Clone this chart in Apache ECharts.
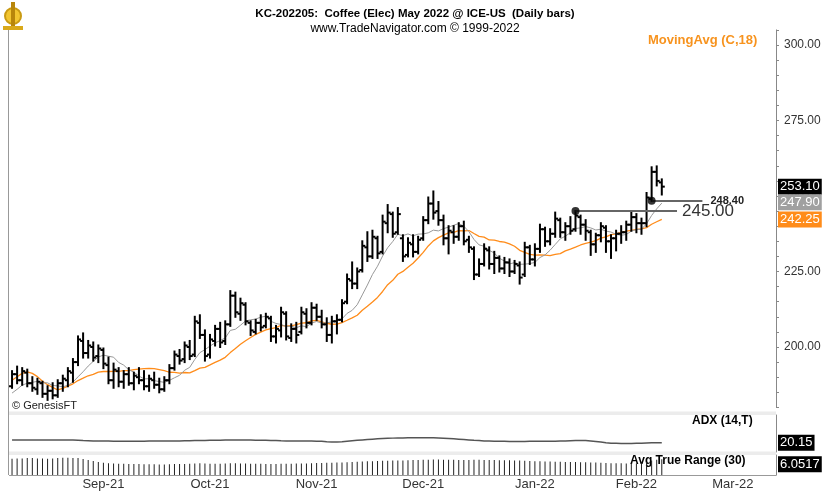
<!DOCTYPE html>
<html>
<head>
<meta charset="utf-8">
<script src="https://cdn.jsdelivr.net/npm/echarts@6/dist/echarts.min.js"></script>
<style>
  html, body { margin: 0; padding: 0; background: #fff; }
  #chart { width: 830px; height: 492px; }
</style>
</head>
<body>
<div id="chart"></div>
<script>
// KC May 2022, daily bars Aug 6 2021 .. Feb 8 2022
const opens = [
  187, 191, 189, 191.5, 188, 186, 188, 184.5, 185.5, 184,
  188, 189, 191.5, 195, 202, 198, 200, 197, 199, 194,
  189, 192, 188.5, 191, 188, 190, 189, 187, 189, 187.5,
  186, 189, 193, 197, 196, 200, 197.5, 208, 204, 197.5,
  202, 206, 202, 207.5, 217, 211, 214, 208, 205, 208,
  207, 209.5, 203.5, 205.5, 211, 203, 206, 205, 211, 208,
  213, 210, 207.5, 204, 208.5, 209, 215, 222, 221, 225.5,
  233, 230, 236, 231.5, 241, 244, 238, 236, 230.5, 234,
  231.5, 236, 242, 247.5, 245, 242, 236, 238, 236.5, 240,
  235.5, 232.5, 224, 227.5, 232, 227.5, 229.5, 226, 228, 225,
  227, 224, 233, 229, 232.5, 239, 235, 237.5, 242, 238,
  240, 239, 243, 240.5, 238, 234, 237, 239.5, 235, 236,
  237.5, 238, 240.5, 243, 241, 241, 249, 258, 254.5
];
const highs = [
  192, 193.5, 193, 192.5, 190, 189.5, 188.5, 187, 188, 189,
  190.5, 193, 196, 203.5, 204.5, 202, 201.5, 200.5, 199.5, 196.5,
  194.5, 193, 192, 193, 191.5, 193, 192, 190.5, 191.5, 189.5,
  190, 194, 198.5, 199, 201.5, 202, 210, 210.5, 205.5, 204,
  207, 208, 208.5, 218.5, 218, 216, 214.5, 208.5, 209, 210.5,
  211, 210, 207, 213, 211.5, 207.5, 208, 213, 212.5, 214.5,
  214, 212, 209.5, 210, 210.5, 215.5, 224, 228, 226, 235,
  238, 238.5, 236.5, 243.5, 247, 244.5, 246, 237, 236, 237,
  236.5, 243, 249.5, 251.5, 248, 243.5, 240, 240, 241, 241.5,
  236.5, 233, 229, 234, 233, 231.5, 230, 229.5, 229, 228.5,
  228, 234.5, 233.5, 234, 240.5, 239.5, 239, 244.5, 242.5, 241,
  243, 245, 243.5, 242, 238.5, 237.5, 241, 240, 237, 238.5,
  240, 241.5, 244.5, 244, 242.5, 251, 259.5, 259.8, 255.5
];
const lows = [
  186.5, 188, 187.5, 187, 185.5, 184.5, 183.5, 182.5, 183, 183.5,
  185.5, 187, 188.5, 194, 196.5, 196.5, 195.5, 195, 193, 188,
  186.5, 187, 186.5, 187.5, 186, 188, 186, 185.5, 186.5, 185,
  185.5, 188, 192.5, 194.5, 195, 196, 197, 203, 195.5, 196.5,
  200.5, 200, 201, 207, 210, 209, 207.5, 204, 204.5, 205.5,
  206.5, 202, 201.5, 203.5, 202.5, 202, 201.5, 204.5, 206.5, 207.5,
  209, 206.5, 202, 201.5, 204.5, 208.5, 214.5, 219.5, 219.5, 225,
  228.5, 229.5, 229.5, 231, 238, 236.5, 237.5, 228.5, 230, 230,
  231, 235.5, 241, 242.5, 240.5, 234, 231, 234.5, 235.5, 234,
  231.5, 222.5, 223.5, 227, 226, 224.5, 225, 224.5, 223.5, 224.5,
  221, 223.5, 227.5, 227, 231.5, 233.5, 234, 236.5, 236.5, 235.5,
  237.5, 238.5, 237.5, 235.5, 230.5, 231.5, 235, 231.5, 229.5, 232,
  234.5, 235.5, 238.5, 238, 237.5, 240, 248.4, 253.5, 250.5
];
const closes = [
  191, 189, 192, 188, 186.5, 188.5, 184.5, 185.5, 184, 188,
  189.5, 192, 195, 202.5, 198, 200.5, 196.5, 199.5, 194.5, 189,
  192.5, 188.5, 191, 188, 190.5, 189, 187, 189.5, 187.5, 186,
  189, 193, 197.5, 195.5, 200.5, 197, 208.5, 204, 197, 202.5,
  206, 201.5, 207.5, 217, 211.5, 214.5, 208.5, 205.5, 208, 206.5,
  210, 203.5, 206, 211.5, 203.5, 206, 204, 211.5, 208, 213,
  210, 207.5, 204, 208.5, 209, 214.5, 222.5, 221, 225, 233.5,
  230, 236.5, 231, 241.5, 244.5, 237.5, 244, 230, 234.5, 231.5,
  235.5, 242, 247.5, 244.5, 242, 236, 238.5, 236.5, 240, 235,
  233, 224, 227.5, 232.5, 227.5, 229.5, 226, 228, 225, 227.5,
  223, 233, 229, 232.5, 239, 235, 237.5, 242.5, 238, 240,
  238.5, 243.5, 240.5, 238.5, 234, 237, 240, 235, 236, 237.5,
  238, 240.5, 243, 241, 241, 249.5, 258, 255, 253.1
];
// closes before the first visible bar, only used to warm up the averages
const priorCloses = [168, 172, 178.5, 196, 208, 212, 206, 200, 203.5,
  180, 178.9, 181, 183, 184, 186, 188, 186];

const adx = [
  26.2, 26.2, 26, 26, 26, 25.8, 25.8, 26, 26, 26.2, 26.2, 26, 26, 25.6,
  25, 24.5, 24, 23.8,
  23.6, 23.6, 23.4, 23.4, 23.4, 23.2, 23.2, 23.4, 23.4, 23.6, 23.6, 23.6, 23.8, 23.8, 24, 24,
  24.2, 24.4, 24.6, 24.8, 25, 25.2, 25.4, 25.6,
  25.8, 26, 26, 26, 25.8, 25.8, 25.6, 25.4, 25.2, 25,
  24.6, 24.2, 24, 23.8, 23.8, 23.8, 23.6, 23.6, 23.4, 23.2,
  22.4, 21.8, 21.6,
  22.4, 23.4, 24.4, 25.4, 26.2, 27,
  27.8, 28.4, 29, 29.6, 30, 30.2,
  30.4, 30.6, 30.8, 31, 31, 30.8, 30.6, 30.2, 29.8,
  29.2, 28.4, 27.6, 26.8, 26, 25.2, 24.6, 24, 23.6,
  23.2, 23, 23, 22.8, 22.8, 22.8, 22.8, 23, 23, 23, 23.2, 23.2, 23.4, 23.6, 23.8,
  24.2, 24.6, 24.8, 24.6, 24,
  22.8, 21.4, 20, 19,
  18.8, 18.6, 18.6, 18.6, 18.8, 19,
  19.4, 19.8, 20, 20.15
];
const atr = [
  6.3, 6.4, 6.4, 6.5, 6.5, 6.4, 6.4, 6.3, 6.4, 6.5, 6.6, 6.6, 6.5, 6.5,
  6.2, 5.8, 5.4, 5.0, 4.7, 4.5,
  4.4, 4.3, 4.3, 4.2, 4.2, 4.2, 4.1, 4.1, 4.1, 4.0, 4.0, 4.1, 4.2, 4.2, 4.2, 4.3, 4.4, 4.5, 4.4, 4.3,
  4.3, 4.3, 4.4, 4.5, 4.5, 4.4, 4.4, 4.3, 4.3, 4.3, 4.2, 4.2, 4.2, 4.3, 4.3, 4.3, 4.4, 4.4, 4.4, 4.5,
  4.6, 4.6, 4.7, 4.7, 4.8, 4.8, 4.9, 5.0, 5.1, 5.2, 5.3, 5.3, 5.4, 5.5, 5.5, 5.6, 5.6, 5.6,
  5.7, 5.8, 5.8, 5.9, 5.9, 6.0, 6.0, 5.9, 5.9, 5.9, 5.8, 5.8, 5.8, 5.9, 5.9, 5.8, 5.8, 5.8, 5.7, 5.7, 5.7, 5.6, 5.6,
  5.5, 5.4, 5.3, 5.3, 5.2, 5.2, 5.1, 5.1, 5.0, 5.0, 5.0, 4.9, 4.9, 4.8, 4.8, 4.7,
  4.6, 4.5, 4.5, 4.5, 4.4, 4.4, 4.4, 4.5,
  5.0, 5.6, 5.9, 6.0517
];

// horizontal levels drawn from a bar
const levelBars = [111, 126];
const levelValues = [245.00, 248.40];
const levelEnds = [131, 136];
// last-value boxes on the price scale
const lastMa8 = 247.90;
const lastMa18 = 242.25;

const holidays = ['2021-09-06', '2021-11-25', '2021-12-24', '2022-01-17', '2022-02-21'];
const firstDay = '2021-08-06';
const slots = 151;
const MON = ['Jan', 'Feb', 'Mar', 'Apr', 'May', 'Jun', 'Jul', 'Aug', 'Sep', 'Oct', 'Nov', 'Dec'];

function tradingDays (start, n) {
  const out = [];
  const d = new Date(start + 'T00:00:00Z');
  while (out.length < n) {
    const s = d.toISOString().slice(0, 10);
    const wd = d.getUTCDay();
    if (wd !== 0 && wd !== 6 && holidays.indexOf(s) < 0) out.push(s);
    d.setUTCDate(d.getUTCDate() + 1);
  }
  return out;
}

function movingAvg (n) {
  const all = priorCloses.concat(closes);
  const off = priorCloses.length;
  return closes.map((c, i) => {
    let s = 0;
    for (let k = 0; k < n; k++) s += all[off + i - k];
    return +(s / n).toFixed(2);
  });
}

const days = tradingDays(firstDay, slots);
const monthStart = {};
days.forEach((d, i) => {
  if (i > 0 && d.slice(0, 7) !== days[i - 1].slice(0, 7)) monthStart[i] = true;
});
const ohlc = closes.map((c, i) => [i, opens[i], c, lows[i], highs[i]]);
const ma18 = movingAvg(18);
const ma8 = movingAvg(8);

const FONT = "'Liberation Sans', Arial, sans-serif";
const NARROW = "'Liberation Sans Narrow', 'Arial Narrow', 'Liberation Sans', sans-serif";
const CLEAR = 'rgba(0,0,0,0)';

// value box sitting just right of the axis line
function valueBox (value, text, bg, dy) {
  return {
    yAxis: value,
    lineStyle: { color: CLEAR, width: 0 },
    label: {
      show: true, position: 'end', distance: 2, formatter: text,
      backgroundColor: bg, color: '#fff', fontSize: 13, fontFamily: FONT,
      padding: [2, 2, 1, 2], offset: [0, dy || 0]
    }
  };
}

const hidden = { show: false };
const xAxes = [0, 1, 2].map(g => ({
  type: 'category', gridIndex: g, data: days, boundaryGap: true,
  axisLine: g === 2 ? { show: true, lineStyle: { color: '#999' } } : hidden,
  axisTick: hidden,
  axisLabel: g === 2 ? {
    show: true, interval: (i) => !!monthStart[i], color: '#333', fontSize: 13, margin: 3,
    fontFamily: FONT,
    formatter: v => MON[+v.slice(5, 7) - 1] + '-' + v.slice(2, 4)
  } : hidden,
  splitLine: hidden
}));

const chart = echarts.init(document.getElementById('chart'));
chart.setOption({
  animation: false,
  backgroundColor: '#fff',
  textStyle: { fontFamily: FONT },
  title: {
    text: 'KC-202205:  Coffee (Elec) May 2022 @ ICE-US  (Daily bars)',
    subtext: 'www.TradeNavigator.com © 1999-2022',
    left: 'center', top: 3, itemGap: 3,
    textStyle: { fontFamily: NARROW, fontSize: 11.5, fontWeight: 'bold', color: '#000' },
    subtextStyle: { fontFamily: NARROW, fontSize: 12, color: '#000' }
  },
  grid: [
    { left: 9.5, right: 54, top: 29.9, height: 377.5 },
    { left: 9.5, right: 54, top: 415, height: 37 },
    { left: 9.5, right: 54, top: 455, height: 20 }
  ],
  xAxis: xAxes,
  yAxis: [
    {
      gridIndex: 0, type: 'value', position: 'right', min: 180, max: 305, interval: 5,
      axisLine: { show: true, lineStyle: { color: '#888' } },
      axisTick: { show: true, length: 3, lineStyle: { color: '#888' } },
      axisLabel: {
        color: '#333', fontSize: 12, margin: 8,
        formatter: v => (v % 25 === 0 ? v.toFixed(2) : '')
      },
      splitLine: hidden
    },
    {
      gridIndex: 1, type: 'value', position: 'right', min: 0, max: 80,
      axisLine: { show: true, lineStyle: { color: '#888' } },
      axisTick: hidden, axisLabel: hidden, splitLine: hidden
    },
    {
      gridIndex: 2, type: 'value', position: 'right', min: 0, max: 7.7,
      axisLine: { show: true, lineStyle: { color: '#888' } },
      axisTick: hidden, axisLabel: hidden, splitLine: hidden
    }
  ],
  graphic: [
    // panel frame and separators
    { type: 'line', shape: { x1: 8.5, y1: 30, x2: 8.5, y2: 475 }, style: { stroke: '#999', lineWidth: 1 } },
    { type: 'rect', shape: { x: 9, y: 411.5, width: 767, height: 3.5 }, style: { fill: '#ececec' } },
    { type: 'rect', shape: { x: 9, y: 451.5, width: 767, height: 3.5 }, style: { fill: '#ececec' } },
    // logo
    {
      type: 'group', left: 3, top: 2, children: [
        { type: 'circle', shape: { cx: 13, cy: 14, r: 8 }, style: { fill: '#f2c530', stroke: '#c99a12', lineWidth: 2 } },
        { type: 'rect', shape: { x: 11, y: 0, width: 4, height: 28 }, style: { fill: '#b8860b' } },
        { type: 'rect', shape: { x: 3, y: 24, width: 20, height: 4 }, style: { fill: '#d9a91a' } }
      ]
    },
    {
      type: 'text', left: 648, top: 34,
      style: { text: 'MovingAvg (C,18)', fill: '#f7931e', font: 'bold 13px ' + FONT }
    },
    {
      type: 'text', left: 12, top: 400,
      style: { text: '© GenesisFT', fill: '#222', font: '11px ' + FONT }
    },
    {
      type: 'text', left: 692, top: 415,
      style: { text: 'ADX (14,T)', fill: '#000', font: 'bold 12px ' + FONT }
    },
    {
      type: 'text', left: 630, top: 455,
      style: { text: 'Avg True Range (30)', fill: '#000', font: 'bold 12px ' + FONT }
    }
  ],
  series: [
    {
      name: 'MA 18', type: 'line', xAxisIndex: 0, yAxisIndex: 0, data: ma18,
      showSymbol: false, silent: true, z: 2,
      lineStyle: { color: '#ff8c1a', width: 1.3 }
    },
    {
      name: 'MA 8', type: 'line', xAxisIndex: 0, yAxisIndex: 0, data: ma8,
      showSymbol: false, silent: true, z: 2,
      lineStyle: { color: '#999', width: 1 }
    },
    {
      name: 'KC', type: 'custom', xAxisIndex: 0, yAxisIndex: 0, data: ohlc, z: 3,
      encode: { x: 0, y: [1, 2, 3, 4] },
      renderItem (params, api) {
        const x = api.value(0);
        const o = api.coord([x, api.value(1)]);
        const c = api.coord([x, api.value(2)]);
        const l = api.coord([x, api.value(3)]);
        const h = api.coord([x, api.value(4)]);
        const st = { stroke: '#000', lineWidth: 2 };
        return {
          type: 'group', children: [
            { type: 'line', shape: { x1: h[0], y1: h[1] - 1, x2: l[0], y2: l[1] + 1 }, style: st },
            { type: 'line', shape: { x1: o[0] - 3, y1: o[1], x2: o[0], y2: o[1] }, style: st },
            { type: 'line', shape: { x1: c[0], y1: c[1], x2: c[0] + 3, y2: c[1] }, style: st }
          ]
        };
      }
    },
    {
      name: 'levels', type: 'scatter', xAxisIndex: 0, yAxisIndex: 0, z: 5,
      data: levelBars.map((b, k) => [b, levelValues[k]]),
      symbolSize: 8, itemStyle: { color: '#000' }, silent: true,
      markLine: {
        silent: true, symbol: ['none', 'none'], animation: false,
        lineStyle: { color: '#666', width: 2, type: 'solid' },
        data: [
          [
            { coord: [levelBars[0], levelValues[0]] },
            {
              coord: [levelEnds[0], levelValues[0]],
              label: { show: true, position: 'end', distance: 5, formatter: levelValues[0].toFixed(2), fontSize: 17, color: '#333' }
            }
          ],
          [
            { coord: [levelBars[1], levelValues[1]] },
            {
              coord: [levelEnds[1], levelValues[1]],
              label: { show: true, position: 'end', distance: 8, formatter: levelValues[1].toFixed(2), fontSize: 11, fontWeight: 'bold', color: '#222' }
            }
          ],
          valueBox(closes[closes.length - 1], closes[closes.length - 1].toFixed(2), '#000'),
          valueBox(lastMa8, lastMa8.toFixed(2), '#a0a0a0'),
          valueBox(lastMa18, lastMa18.toFixed(2), '#ff8c1a')
        ]
      }
    },
    {
      name: 'ADX', type: 'line', xAxisIndex: 1, yAxisIndex: 1, data: adx,
      showSymbol: false, silent: true,
      lineStyle: { color: '#555', width: 1.5 },
      markLine: {
        silent: true, symbol: ['none', 'none'], animation: false,
        data: [valueBox(adx[adx.length - 1], adx[adx.length - 1].toFixed(2), '#000')]
      }
    },
    {
      name: 'ATR', type: 'bar', xAxisIndex: 2, yAxisIndex: 2, data: atr,
      barWidth: 1, silent: true, itemStyle: { color: '#222' },
      markLine: {
        silent: true, symbol: ['none', 'none'], animation: false,
        data: [valueBox(atr[atr.length - 1], atr[atr.length - 1].toFixed(4), '#000', 5)]
      }
    }
  ]
});
</script>
</body>
</html>
